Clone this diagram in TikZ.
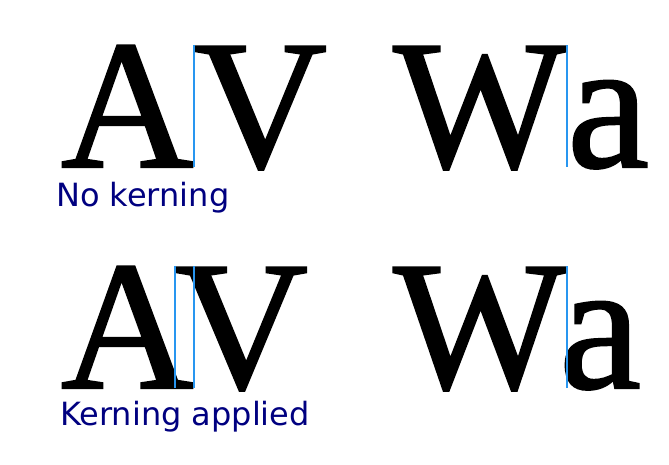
\documentclass[tikz,border=0pt]{standalone}
\usepackage{fontspec}
\setmainfont{Liberation Serif}
\newfontfamily\glyphfont[FakeBold=1.2]{Liberation Serif}
\newfontfamily\labelfont{DejaVu Sans}
\definecolor{labelblue}{RGB}{0,0,128}
\definecolor{guideblue}{RGB}{40,150,240}

\begin{document}
\begin{tikzpicture}[x=1pt,y=-1pt,
  glyph/.style={font=\glyphfont\fontsize{184}{184}\selectfont, inner sep=0pt, text depth=0pt, anchor=base west},
  caption/.style={font=\labelfont\fontsize{32}{32}\selectfont, text=labelblue, inner sep=0pt, anchor=base west},
  guide/.style={guideblue, line width=1.2pt}]
\useasboundingbox (0,0) rectangle (669,465);
% no kerning
\node[glyph] (A1) at (60.65,167) {A};
\node[glyph] (V1) at (A1.base east) {V};
\node[glyph] (W1) at (393,167) {W};
\node[glyph] (a1) at (W1.base east) {a};
\node[caption] (cap1) at (56,207) {No kerning};
\draw [guide] (A1.base east) -- ++(0,-122);
\draw [guide] (W1.base east) -- ++(0,-122);
% kerning applied
\node[glyph] (A2) at (60.65,388) {A};
\node[glyph] (V2) at ([xshift=-19pt]A2.base east) {V};
\node[glyph] (W2) at (393,388) {W};
\node[glyph] (a2) at ([xshift=-8pt]W2.base east) {a};
\node[caption] (cap2) at (60,425) {Kerning applied};
\draw [guide] (A2.base east) -- ++(0,-122);
\draw [guide] (V2.base west) -- ++(0,-122);
\draw [guide] (W2.base east) -- ++(0,-122);
\end{tikzpicture}
\end{document}
